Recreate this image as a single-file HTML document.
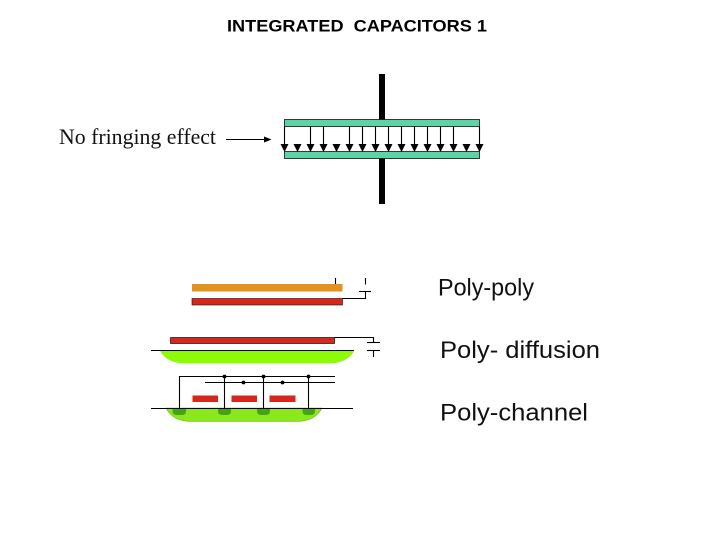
<!DOCTYPE html>
<html>
<head>
<meta charset="utf-8">
<style>
html,body{margin:0;padding:0;background:#fff;}
svg{display:block;}
</style>
</head>
<body>
<svg width="720" height="540" viewBox="0 0 720 540" xmlns="http://www.w3.org/2000/svg">
<rect width="720" height="540" fill="#fff"/>
<text x="227" y="31.5" font-family="Liberation Sans, sans-serif" font-weight="bold" font-size="16.5" textLength="260" lengthAdjust="spacingAndGlyphs" xml:space="preserve" fill="#000">INTEGRATED  CAPACITORS 1</text>

<text x="59" y="144" font-family="Liberation Serif, serif" font-size="22" textLength="157" lengthAdjust="spacingAndGlyphs" fill="#111">No fringing effect</text>
<line x1="226" y1="139.5" x2="265" y2="139.5" stroke="#000" stroke-width="1.1"/>
<polygon points="264,136.5 271.5,139.5 264,142.5" fill="#000"/>

<rect x="379" y="74" width="6" height="45.5" fill="#000"/>
<rect x="379" y="158.5" width="6" height="45.5" fill="#000"/>
<rect x="284.5" y="119.5" width="195" height="7" fill="#5fd3a5" stroke="#111" stroke-width="0.8"/>
<rect x="284.5" y="151.5" width="195" height="7" fill="#5fd3a5" stroke="#111" stroke-width="0.8"/>

<g stroke="#000" stroke-width="1.1">
<line x1="284.5" y1="126.5" x2="284.5" y2="145"/>
<line x1="310.5" y1="126.5" x2="310.5" y2="145"/>
<line x1="323.5" y1="126.5" x2="323.5" y2="145"/>
<line x1="349.5" y1="126.5" x2="349.5" y2="145"/>
<line x1="362.5" y1="126.5" x2="362.5" y2="145"/>
<line x1="375.5" y1="126.5" x2="375.5" y2="145"/>
<line x1="388.5" y1="126.5" x2="388.5" y2="145"/>
<line x1="401.5" y1="126.5" x2="401.5" y2="145"/>
<line x1="414.5" y1="126.5" x2="414.5" y2="145"/>
<line x1="427.5" y1="126.5" x2="427.5" y2="145"/>
<line x1="440.5" y1="126.5" x2="440.5" y2="145"/>
<line x1="453.5" y1="126.5" x2="453.5" y2="145"/>
<line x1="479.5" y1="126.5" x2="479.5" y2="145"/>
</g>
<g fill="#000">
<polygon points="280.5,144 288.5,144 284.5,152"/>
<polygon points="293.5,144 301.5,144 297.5,152"/>
<polygon points="306.5,144 314.5,144 310.5,152"/>
<polygon points="319.5,144 327.5,144 323.5,152"/>
<polygon points="332.5,144 340.5,144 336.5,152"/>
<polygon points="345.5,144 353.5,144 349.5,152"/>
<polygon points="358.5,144 366.5,144 362.5,152"/>
<polygon points="371.5,144 379.5,144 375.5,152"/>
<polygon points="384.5,144 392.5,144 388.5,152"/>
<polygon points="397.5,144 405.5,144 401.5,152"/>
<polygon points="410.5,144 418.5,144 414.5,152"/>
<polygon points="423.5,144 431.5,144 427.5,152"/>
<polygon points="436.5,144 444.5,144 440.5,152"/>
<polygon points="449.5,144 457.5,144 453.5,152"/>
<polygon points="462.5,144 470.5,144 466.5,152"/>
<polygon points="475.5,144 483.5,144 479.5,152"/>
</g>

<!-- Poly-poly -->
<rect x="192" y="284" width="150.5" height="7.5" fill="#e0931e"/>
<rect x="192" y="298.5" width="150.5" height="6.5" fill="#d8261a" stroke="#111" stroke-width="0.6"/>
<g stroke="#000" stroke-width="1.1" fill="none">
<line x1="335.5" y1="278" x2="335.5" y2="284"/>
<line x1="365.5" y1="278" x2="365.5" y2="284.5"/>
<line x1="359" y1="291.5" x2="371" y2="291.5"/>
<polyline points="342.5,298.5 365.5,298.5 365.5,291.5"/>
</g>

<!-- Poly-diffusion -->
<path d="M160,350 H354.5 C351,358 342,363.5 328,363.5 H186 C172,363.5 163,358 160,350 Z" fill="#8dfb08"/>
<rect x="170.5" y="337.5" width="164" height="6" fill="#d8261a" stroke="#111" stroke-width="0.7"/>
<g stroke="#000" stroke-width="1.1" fill="none">
<line x1="151" y1="350.5" x2="354" y2="350.5"/>
<polyline points="334.5,337.5 373.5,337.5 373.5,342.5"/>
<line x1="367" y1="342.5" x2="380" y2="342.5"/>
<line x1="367" y1="350.5" x2="380" y2="350.5"/>
<line x1="373.5" y1="350.5" x2="373.5" y2="357"/>
</g>

<!-- Poly-channel -->
<path d="M166,408 H322 C318,416 310,421.5 296,421.5 H192 C178,421.5 170,416 166,408 Z" fill="#8be81c" stroke="#6fb516" stroke-width="0.6"/>
<g fill="#45a315">
<path d="M172.5,408 H186 V411 Q186,415 182,415 H176.5 Q172.5,415 172.5,411 Z"/>
<path d="M218,408 H231 V411 Q231,415 227,415 H222 Q218,415 218,411 Z"/>
<path d="M257,408 H270 V411 Q270,415 266,415 H261 Q257,415 257,411 Z"/>
<path d="M302.5,408 H315 V411 Q315,415 311,415 H306.5 Q302.5,415 302.5,411 Z"/>
</g>
<g fill="#d8261a">
<rect x="192.5" y="395.5" width="25.5" height="6.5"/>
<rect x="231.5" y="395.5" width="25.5" height="6.5"/>
<rect x="269.5" y="395.5" width="26" height="6.5"/>
</g>
<g stroke="#000" stroke-width="1.1" fill="none">
<line x1="151" y1="408.5" x2="353" y2="408.5"/>
<polyline points="179.5,408.5 179.5,376.5 335,376.5"/>
<line x1="205" y1="382.5" x2="335" y2="382.5"/>
<line x1="224.5" y1="376.5" x2="224.5" y2="408.5"/>
<line x1="263.5" y1="376.5" x2="263.5" y2="408.5"/>
<line x1="308.5" y1="376.5" x2="308.5" y2="408.5"/>
</g>
<g fill="#000">
<circle cx="224.5" cy="376.5" r="1.9"/>
<circle cx="263.5" cy="376.5" r="1.9"/>
<circle cx="308.5" cy="376.5" r="1.9"/>
<circle cx="243.5" cy="382.5" r="1.9"/>
<circle cx="282.5" cy="382.5" r="1.9"/>
</g>

<g font-family="Liberation Sans, sans-serif" font-size="24" fill="#111">
<text x="438" y="295.5" textLength="96" lengthAdjust="spacingAndGlyphs">Poly-poly</text>
<text x="440" y="358" textLength="160" lengthAdjust="spacingAndGlyphs">Poly- diffusion</text>
<text x="440" y="420.5" textLength="148" lengthAdjust="spacingAndGlyphs">Poly-channel</text>
</g>
</svg>
</body>
</html>
